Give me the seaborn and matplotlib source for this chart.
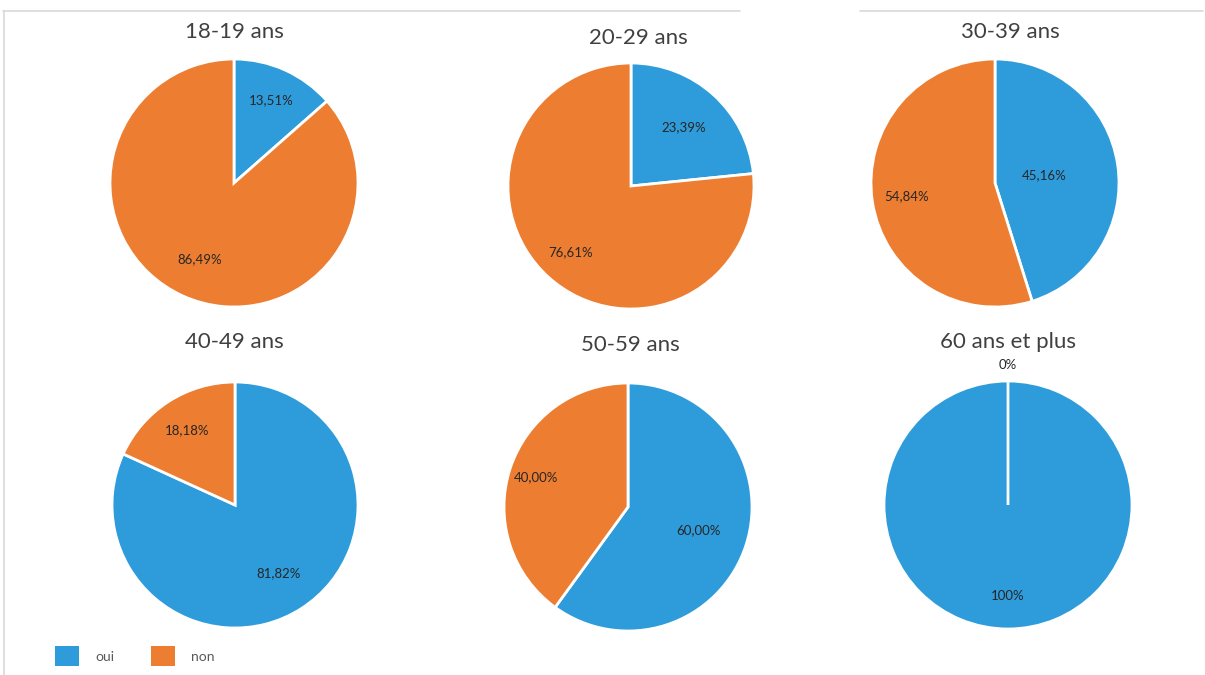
import matplotlib
matplotlib.use("Agg")
import numpy as np
import matplotlib.pyplot as plt
import seaborn as sns
from matplotlib.lines import Line2D
from matplotlib.patches import Rectangle

# ---- data ----
groups = ["18-19 ans", "20-29 ans", "30-39 ans", "40-49 ans", "50-59 ans", "60 ans et plus"]
oui = [13.51, 23.39, 45.16, 81.82, 60.00, 100.0]
non = [86.49, 76.61, 54.84, 18.18, 40.00, 0.0]
legend_labels = ["oui", "non"]

# ---- style / layout (pixels) ----
W, H = 1205, 675
centers = [(234, 183), (631, 186), (995, 183), (235, 505), (628, 507), (1008, 505)]
radii = [124, 123, 124, 123, 124, 124]
title_pos = [(234, 32), (638, 38), (1010, 32), (234, 342), (630, 345), (1008, 342)]
label_dist = [(0.73, 0.67), (0.64, 0.73), (0.40, 0.72), (0.66, 0.72), (0.60, 0.78), (0.73, 1.13)]

sns.set_theme(style="white")
plt.rcParams["font.family"] = ["Lato", "DejaVu Sans"]
colors = sns.color_palette(["#2E9CDB", "#ED7D31"])

fig = plt.figure(figsize=(W / 100, H / 100), dpi=100)
fig.patch.set_facecolor("white")


def fmt(v):
    if v in (0, 100):
        return f"{v:.0f}%"
    return f"{v:.2f}".replace(".", ",") + "%"


for i, g in enumerate(groups):
    cx, cy = centers[i]
    r = radii[i]
    ax = fig.add_axes([(cx - r) / W, 1 - (cy + r) / H, 2 * r / W, 2 * r / H])
    vals = [oui[i], non[i]]
    ax.pie(vals, colors=colors, startangle=90, counterclock=False,
           radius=1, wedgeprops=dict(edgecolor="white", linewidth=2))
    ang = 90.0
    for v, d in zip(vals, label_dist[i]):
        span = v / 100 * 360
        mid = np.deg2rad(ang - span / 2)
        ax.text(d * np.cos(mid), d * np.sin(mid), fmt(v), ha="center", va="center",
                fontsize=9.5, color="#262626")
        ang -= span
    ax.set_xlim(-1, 1)
    ax.set_ylim(-1, 1)
    ax.set_aspect("equal")
    ax.axis("off")
    tx, ty = title_pos[i]
    fig.text(tx / W, 1 - ty / H, g, ha="center", va="center", fontsize=16, color="#404040")

# legend
for k, (lab, col) in enumerate(zip(legend_labels, colors)):
    x0 = 55 + k * 96
    fig.patches.append(Rectangle((x0 / W, 1 - 666 / H), 24 / W, 20 / H,
                                 transform=fig.transFigure, facecolor=col, edgecolor="none"))
    fig.text((x0 + 40) / W, 1 - 657 / H, lab, ha="left", va="center", fontsize=10, color="#595959")

# faint frame lines
lc = "#D9D9D9"
fig.add_artist(Line2D([3 / W, 740 / W], [1 - 11 / H, 1 - 11 / H], color=lc, lw=1.2))
fig.add_artist(Line2D([860 / W, 1 - 2 / W], [1 - 11 / H, 1 - 11 / H], color=lc, lw=1.2))
fig.add_artist(Line2D([4 / W, 4 / W], [0, 1 - 11 / H], color=lc, lw=1.2))

fig.savefig("out.png", dpi=100, facecolor="white")
